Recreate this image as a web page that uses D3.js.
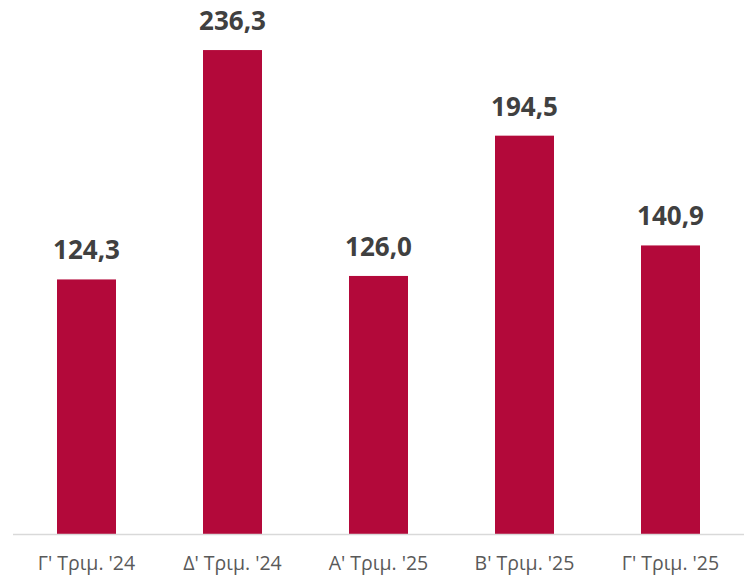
<!DOCTYPE html>
<html>
<head>
    <meta charset="utf-8">
    <script src="https://d3js.org/d3.v7.min.js"></script>
    <style>
        body { margin: 0; background: #fff; }
    </style>
</head>
<body>
<script>
    const quarters = ["Γ' Τριμ. '24", "Δ' Τριμ. '24", "Α' Τριμ. '25", "Β' Τριμ. '25", "Γ' Τριμ. '25"];
    const values = [124.3, 236.3, 126.0, 194.5, 140.9];

    const w = 753;
    const h = 576;
    const baseY = 534;

    const svg = d3.select('body').append('svg').attr('width', w).attr('height', h);

    const xScale = d3.scaleBand()
        .domain(quarters)
        .range([13.5, 743.5])
        .paddingInner(0.596)
        .paddingOuter(0.298);

    const yScale = d3.scaleLinear()
        .domain([0, 250])
        .range([baseY, 22]);

    const fmt = v => v.toFixed(1).replace('.', ',');

    svg.selectAll('rect.bar')
        .data(values)
        .enter()
        .append('rect')
        .attr('class', 'bar')
        .attr('x', (d, i) => xScale(quarters[i]))
        .attr('y', d => yScale(d))
        .attr('width', xScale.bandwidth())
        .attr('height', d => baseY - yScale(d))
        .attr('fill', '#b3093a');

    // baseline
    svg.append('line')
        .attr('x1', 13)
        .attr('x2', 744)
        .attr('y1', baseY + 0.5)
        .attr('y2', baseY + 0.5)
        .attr('stroke', '#d9d9d9')
        .attr('stroke-width', 1.5);

    svg.selectAll('text.val')
        .data(values)
        .enter()
        .append('text')
        .attr('class', 'val')
        .attr('x', (d, i) => xScale(quarters[i]) + xScale.bandwidth() / 2)
        .attr('y', d => yScale(d) - 20)
        .attr('text-anchor', 'middle')
        .attr('font-family', 'Open Sans, sans-serif')
        .attr('font-weight', 'bold')
        .attr('font-size', '26px')
        .attr('fill', '#404040')
        .text(d => fmt(d));

    svg.selectAll('text.cat')
        .data(quarters)
        .enter()
        .append('text')
        .attr('class', 'cat')
        .attr('x', d => xScale(d) + xScale.bandwidth() / 2)
        .attr('y', 570)
        .attr('text-anchor', 'middle')
        .attr('font-family', 'Open Sans, sans-serif')
        .attr('font-size', '19.5px')
        .attr('fill', '#595959')
        .text(d => d);
</script>
</body>
</html>
